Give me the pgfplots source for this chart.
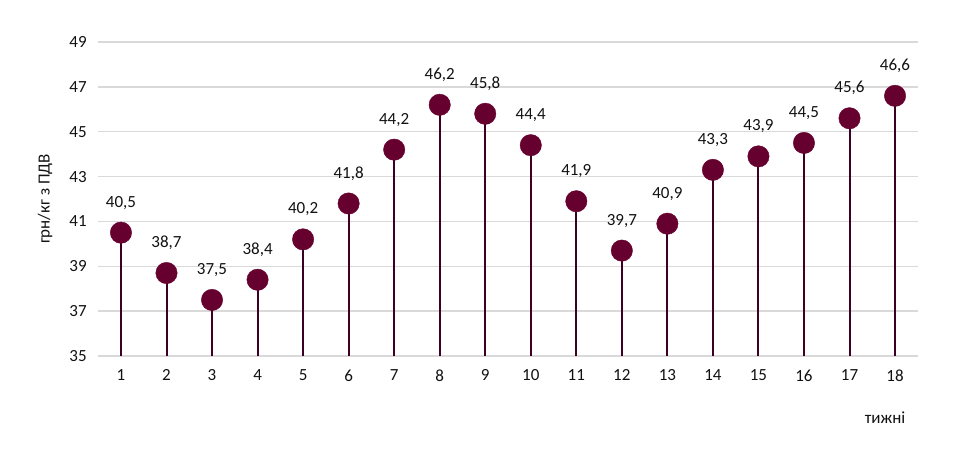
\documentclass[border=0pt]{standalone}
\usepackage{pgfplots}
\pgfplotsset{compat=1.18}
\usepackage{fontspec}
\setmainfont{Carlito}
\definecolor{stem}{HTML}{3E0022}
\definecolor{dot}{HTML}{66002F}
\definecolor{gridc}{HTML}{D9D9D9}
\definecolor{txt}{HTML}{111111}
\newcommand{\cf}{\fontsize{17}{20}\selectfont}
\begin{document}
\begin{tikzpicture}
\useasboundingbox (0pt,0pt) rectangle (958pt,448pt);
\begin{axis}[
  at={(98.2pt,92pt)}, anchor=south west,
  scale only axis, width=819.6pt, height=314pt,
  xmin=0.5, xmax=18.5, ymin=35, ymax=49,
  xtick={1,...,18}, ytick={35,37,...,49},
  ymajorgrids, grid style={gridc, line width=1.3pt},
  axis line style={draw=none}, tick style={draw=none},
  /pgf/number format/assume math mode=true,
  ticklabel style={font=\cf, text=txt},
  yticklabel style={xshift=-8pt},
  xticklabel style={yshift=-10pt},
  ylabel={грн/кг з ПДВ},
  ylabel style={font=\cf, text=txt, at={([xshift=-53pt]axis description cs:0,0.5)}, anchor=center},
  xlabel={тижні},
  xlabel style={font=\cf, text=txt, at={([yshift=-62pt]axis description cs:0.96,0)}, anchor=center},
  clip=true,
]
\pgfplotstableread{
x y
1 40.5
2 38.7
3 37.5
4 38.4
5 40.2
6 41.8
7 44.2
8 46.2
9 45.8
10 44.4
11 41.9
12 39.7
13 40.9
14 43.3
15 43.9
16 44.5
17 45.6
18 46.6
}\data
\addplot[ycomb, draw=stem, line width=2pt, no marks] table[x=x,y=y]{\data};
\addplot[only marks, mark=*, mark size=10.7pt, mark options={fill=dot, draw=dot},
  nodes near coords, point meta=y,
  nodes near coords style={font=\cf, text=txt, anchor=center, yshift=30pt,
    /pgf/number format/.cd, fixed, fixed zerofill, precision=1, use comma, assume math mode=true},
] table[x=x,y=y]{\data};
\end{axis}
\end{tikzpicture}
\end{document}
